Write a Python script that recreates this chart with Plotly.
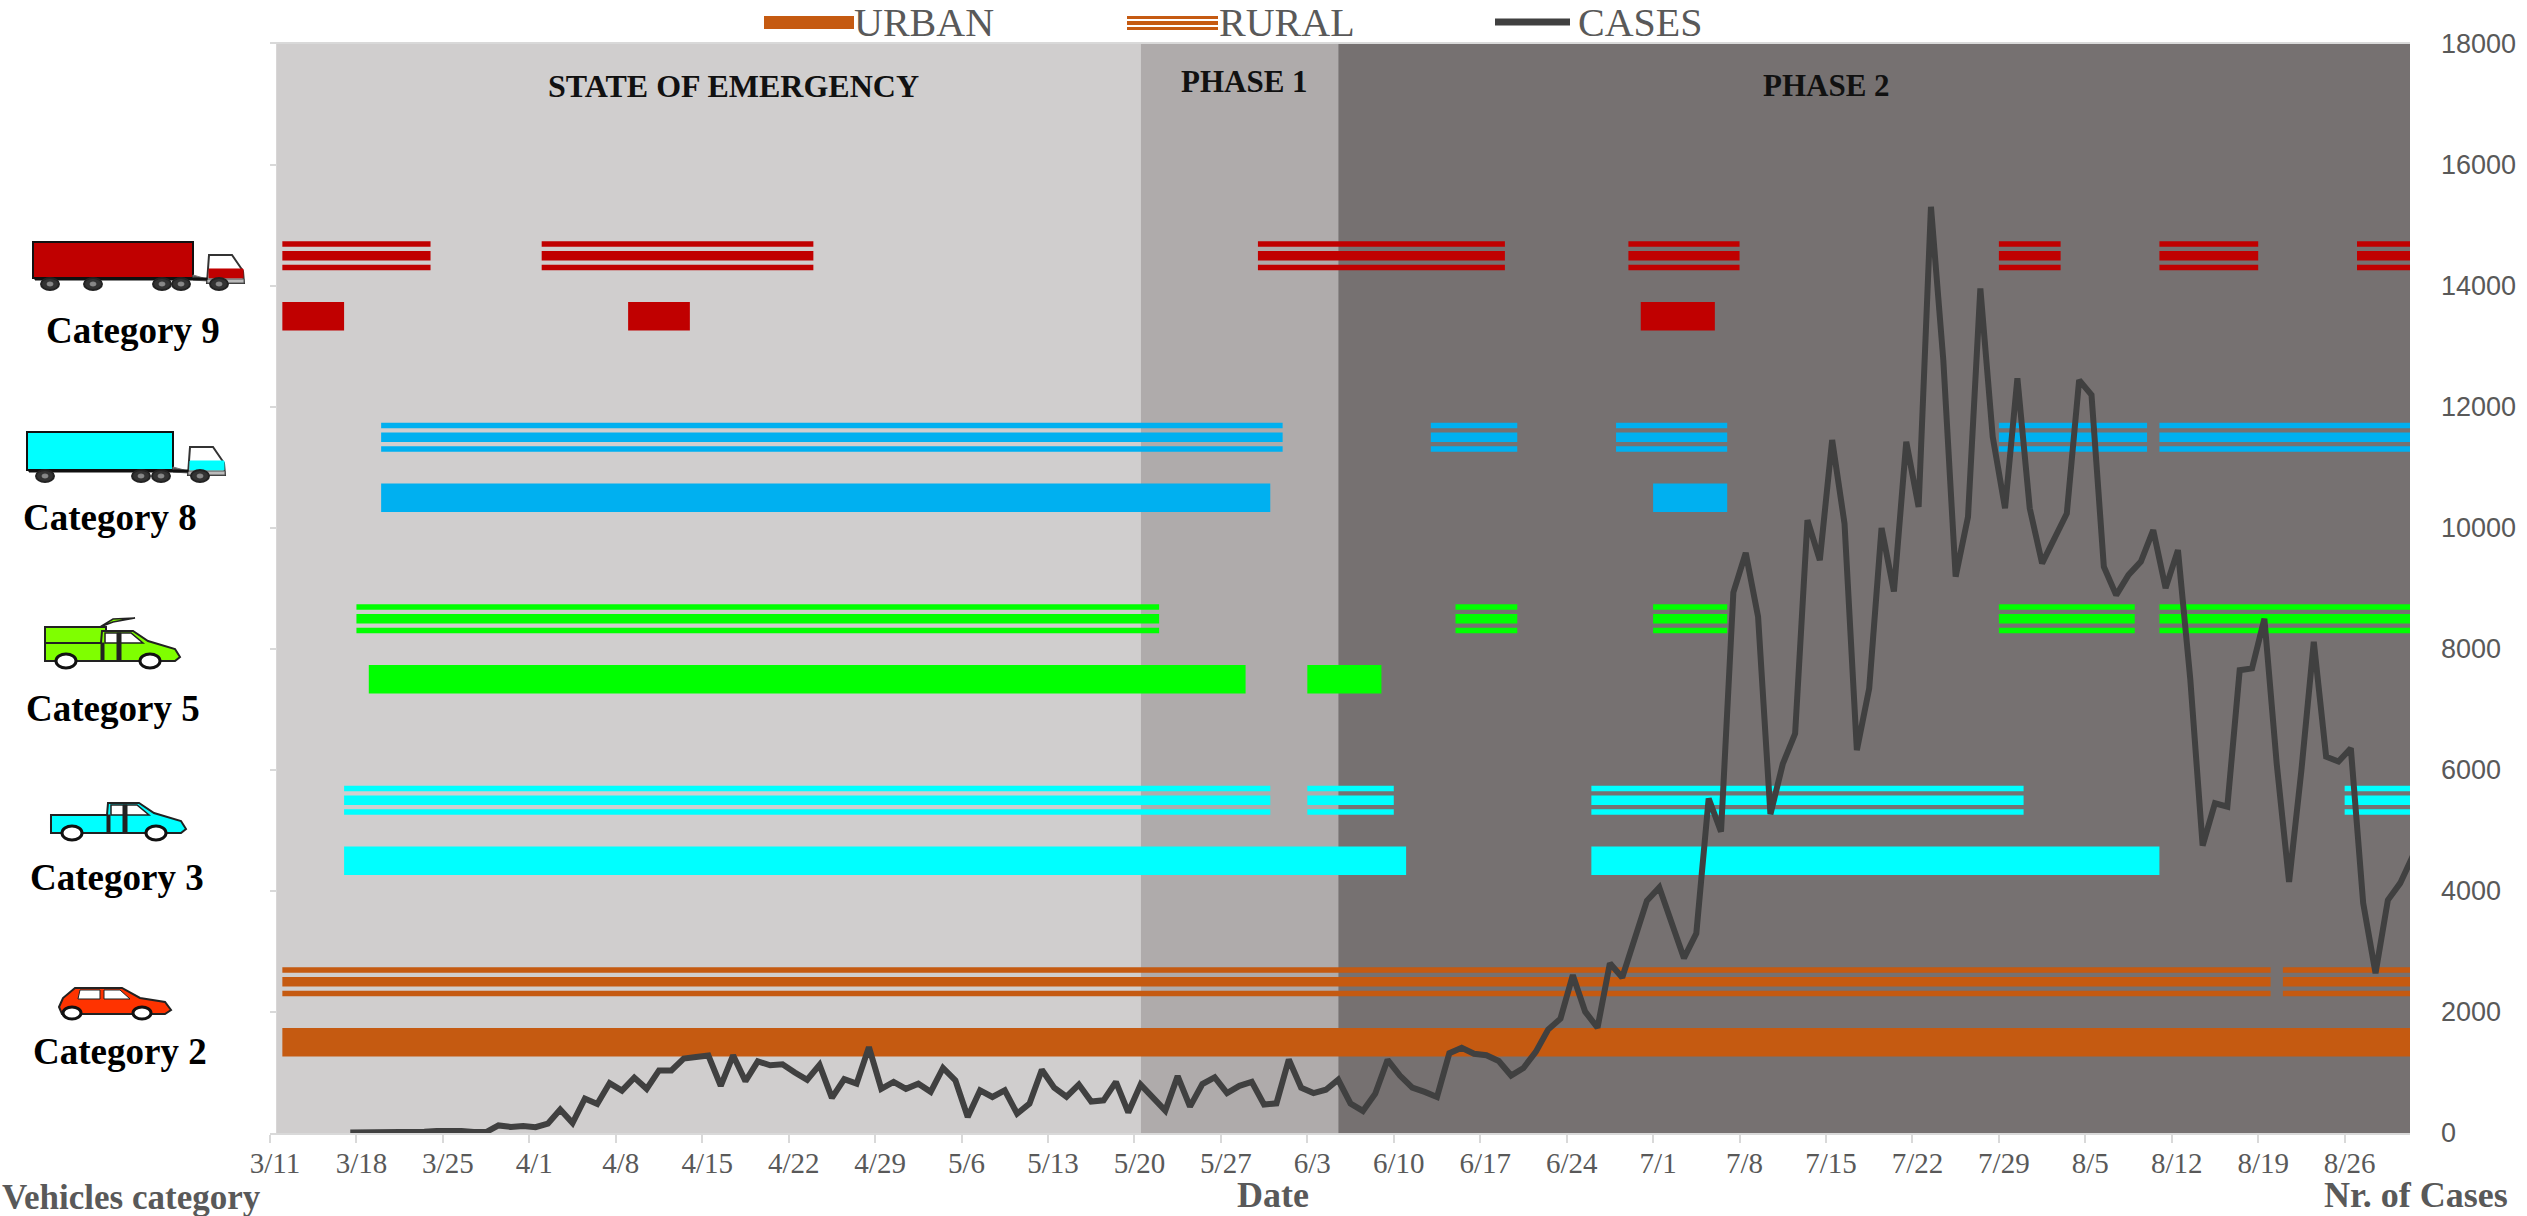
import pandas as pd
import plotly.graph_objects as go

# daily new cases, first value is 3/17
cases = [
    10, 10, 10, 15, 15, 20, 20, 35, 40, 35, 15, 15, 125, 100, 115, 95, 155, 390, 165, 570,
    480, 825, 700, 915, 730, 1035, 1035, 1230, 1255, 1280, 780, 1285, 855, 1185, 1120, 1135, 1000, 880, 1125, 580,
    890, 815, 1420, 730, 845, 730, 815, 680, 1075, 870, 265, 705, 595, 705, 320, 485, 1045,
    750, 600, 800, 520, 540, 845, 340, 800, 585, 370, 940, 435, 810, 920, 660, 780, 845, 470, 490, 1215,
    750, 660, 715, 880, 485, 365, 650, 1210, 950, 750, 680, 595, 1320, 1410, 1310, 1285, 1190, 950, 1075, 1340,
    1710, 1890, 2610, 2005, 1740, 2805, 2570, 3190, 3840, 4060, 3465, 2890, 3300, 5530, 4980, 8935, 9590, 8535, 5270, 6100,
    6600, 10130, 9470, 11455, 10075, 6330, 7350, 10000, 8950, 11425, 10350, 15310, 12775, 9195, 10185, 13960, 11510, 10325, 12475, 10325,
    9415, 9830, 10240, 12445, 12200, 9360, 8890, 9225, 9445, 9965, 9005, 9635, 7500, 4750, 5450, 5395, 7650, 7680, 8500, 6100,
    4150, 6000, 8120, 6220, 6140, 6360, 3800, 2640, 3850, 4130, 4570,
]

categories = ["Category 2", "Category 3", "Category 5", "Category 8", "Category 9"]
colors = ["#C55A11", "#00FFFF", "#00FF00", "#00B0F0", "#C00000"]

cat2_urban = [("2020-03-12", "2020-09-01")]
cat2_rural = [("2020-03-12", "2020-08-20"), ("2020-08-21", "2020-09-01")]
cat3_urban = [("2020-03-17", "2020-06-11"), ("2020-06-26", "2020-08-11")]
cat3_rural = [("2020-03-17", "2020-05-31"), ("2020-06-03", "2020-06-10"), ("2020-06-26", "2020-07-31"), ("2020-08-26", "2020-09-01")]
cat5_urban = [("2020-03-19", "2020-05-29"), ("2020-06-03", "2020-06-09")]
cat5_rural = [("2020-03-18", "2020-05-22"), ("2020-06-15", "2020-06-20"), ("2020-07-01", "2020-07-07"), ("2020-07-29", "2020-08-09"), ("2020-08-11", "2020-09-01")]
cat8_urban = [("2020-03-20", "2020-05-31"), ("2020-07-01", "2020-07-07")]
cat8_rural = [("2020-03-20", "2020-06-01"), ("2020-06-13", "2020-06-20"), ("2020-06-28", "2020-07-07"), ("2020-07-29", "2020-08-10"), ("2020-08-11", "2020-09-01")]
cat9_urban = [("2020-03-12", "2020-03-17"), ("2020-04-09", "2020-04-14"), ("2020-06-30", "2020-07-06")]
cat9_rural = [("2020-03-12", "2020-03-24"), ("2020-04-02", "2020-04-24"), ("2020-05-30", "2020-06-19"), ("2020-06-29", "2020-07-08"), ("2020-07-29", "2020-08-03"), ("2020-08-11", "2020-08-19"), ("2020-08-27", "2020-09-01")]

urban = [cat2_urban, cat3_urban, cat5_urban, cat8_urban, cat9_urban]
rural = [cat2_rural, cat3_rural, cat5_rural, cat8_rural, cat9_rural]

phases = ["STATE OF EMERGENCY", "PHASE 1", "PHASE 2"]
phase_starts = ["2020-03-11 12:00", "2020-05-20 12:00", "2020-06-05 12:00"]
phase_ends = ["2020-05-20 12:00", "2020-06-05 12:00", "2020-08-31 07:00"]
phase_colors = ["#D0CECE", "#AFABAB", "#767171"]

# page is 2527x1216, plot box in pixels
L, R, T, B = 270, 2410, 44, 1133
row_y = [1, 2.5, 4, 5.5, 7]
SERIF = "Liberation Serif"
GREY = "#595959"


def px_x(x):
    return (x - L) / (R - L)


def px_y(y):
    return (B - y) / (B - T)


fig = go.Figure()


def add_bars(segments, y, height, color):
    fig.add_trace(go.Bar(
        y=[y] * len(segments),
        base=[s for s, e in segments],
        x=[(pd.Timestamp(e) - pd.Timestamp(s)).total_seconds() * 1000 for s, e in segments],
        width=height,
        orientation="h",
        marker=dict(color=color, line=dict(width=0)),
        showlegend=False,
    ))


for i in range(len(categories)):
    add_bars(urban[i], row_y[i] - 0.25, 0.235, colors[i])
    # rural = three stripes
    add_bars(rural[i], row_y[i] + 0.25 + 0.097, 0.046, colors[i])
    add_bars(rural[i], row_y[i] + 0.25, 0.08, colors[i])
    add_bars(rural[i], row_y[i] + 0.25 - 0.097, 0.046, colors[i])

fig.add_trace(go.Scatter(
    x=pd.date_range("2020-03-17 12:00", periods=len(cases), freq="D"),
    y=cases,
    yaxis="y2",
    mode="lines",
    line=dict(color="#404040", width=6),
    showlegend=False,
))

for s, e, c in zip(phase_starts, phase_ends, phase_colors):
    fig.add_vrect(x0=s, x1=e, fillcolor=c, line_width=0, layer="below")

shapes = []


def rect(x0, y0, x1, y1, fill, line="#111111", lw=1.5):
    shapes.append(dict(type="rect", xref="paper", yref="paper",
                       x0=px_x(x0), x1=px_x(x1), y0=px_y(y0), y1=px_y(y1),
                       fillcolor=fill, line=dict(color=line, width=lw)))


def disk(cx, cy, rx, ry, fill, line="#111111", lw=2):
    shapes.append(dict(type="circle", xref="paper", yref="paper",
                       x0=px_x(cx - rx), x1=px_x(cx + rx), y0=px_y(cy - ry), y1=px_y(cy + ry),
                       fillcolor=fill, line=dict(color=line, width=lw)))


def poly(points, fill, line="#111111", lw=1.5):
    p = "M " + " L ".join(f"{px_x(x):.5f},{px_y(y):.5f}" for x, y in points) + " Z"
    shapes.append(dict(type="path", xref="paper", yref="paper", path=p,
                       fillcolor=fill, line=dict(color=line, width=lw)))


def truck(x0, x1, y0, y1, wheels, cab_x, color):
    # container, hitch, cab, wheels
    rect(x0, y0, x1, y1, color, lw=2)
    poly([(x1, y1 - 3), (cab_x, y1 + 1), (cab_x, y1 + 3), (x1, y1 + 2)], "#555555", "#777777", 1)
    cy = y1 + 5
    poly([(cab_x, cy), (cab_x + 2, cy - 28), (cab_x + 25, cy - 28), (cab_x + 36, cy - 12), (cab_x + 37, cy)], "#FFFFFF", "#333333", 2)
    poly([(cab_x + 2, cy - 14), (cab_x + 36, cy - 14), (cab_x + 36, cy - 5), (cab_x + 2, cy - 5)], color, color, 1)
    rect(cab_x, cy - 4, cab_x + 37, cy, "#BBBBBB", "#555555", 1)
    rect(x0 + 2, y1, cab_x, y1 + 2, "#111111", "#111111", 1)
    for w in wheels + [cab_x + 12]:
        disk(w, y1 + 6, 9, 6, "#333333", "#222222", 2)
        disk(w, y1 + 6, 3, 2, "#888888", "#888888", 1)


def pickup(ox, oy, color, dump=False):
    # ox, oy: left end and bottom of the body
    if dump:
        rect(ox, oy - 34, ox + 61, oy - 16, color, "#222222", 2)
        poly([(ox + 55, oy - 34), (ox + 68, oy - 42), (ox + 90, oy - 43), (ox + 68, oy - 39)], color, "#222222", 1.5)
    poly([(ox, oy), (ox, oy - 18), (ox + 56, oy - 18), (ox + 57, oy - 30), (ox + 88, oy - 30), (ox + 103, oy - 20),
          (ox + 130, oy - 12), (ox + 135, oy - 4), (ox + 130, oy)], color, "#222222", 2)
    poly([(ox + 60, oy - 18), (ox + 60, oy - 28), (ox + 86, oy - 28), (ox + 98, oy - 18)], "#FFFFFF", "#222222", 1.5)
    rect(ox + 72, oy - 28, ox + 76, oy, "#222222", "#222222", 1)
    rect(ox + 56, oy - 18, ox + 59, oy, "#222222", "#222222", 1)
    for w in [ox + 21, ox + 105]:
        disk(w, oy, 10, 7, "#FFFFFF", "#111111", 3)


truck(33, 193, 242, 278, [50, 93, 162, 181], 207, colors[4])
truck(27, 173, 432, 470, [45, 141, 161], 188, colors[1])
pickup(45, 661, "#7FFF00", dump=True)
pickup(51, 833, colors[1])

# car
poly([(59, 1007), (63, 998), (75, 988), (122, 988), (140, 998), (165, 1002), (171, 1010), (165, 1014), (62, 1014)], "#FF3300", "#222222", 2)
poly([(78, 999), (80, 990), (100, 990), (100, 999)], "#FFFFFF", "#222222", 1)
poly([(104, 999), (104, 990), (120, 990), (130, 999)], "#FFFFFF", "#222222", 1)
for w in [72, 142]:
    disk(w, 1013, 9, 6, "#FFFFFF", "#111111", 3)

# legend swatches
rect(764, 16, 854, 29, colors[0], colors[0], 0)
for y0, y1 in [(16, 19), (21, 25), (27, 30)]:
    rect(1127, y0, 1218, y1, colors[0], colors[0], 0)
shapes.append(dict(type="line", xref="paper", yref="paper", x0=px_x(1495), x1=px_x(1570),
                   y0=px_y(22), y1=px_y(22), line=dict(color="#404040", width=7)))
for s in shapes:
    fig.add_shape(**s)

notes = [
    (733, 86, phases[0], 32, "#111111", True, "center"),
    (1244, 82, phases[1], 31, "#111111", True, "center"),
    (1826, 86, phases[2], 31, "#111111", True, "center"),
    (120, 1051, categories[0], 37, "#000000", True, "center"),
    (117, 877, categories[1], 37, "#000000", True, "center"),
    (113, 708, categories[2], 37, "#000000", True, "center"),
    (110, 517, categories[3], 37, "#000000", True, "center"),
    (133, 330, categories[4], 37, "#000000", True, "center"),
    (853, 23, "URBAN", 40, GREY, False, "left"),
    (1218, 23, "RURAL", 40, GREY, False, "left"),
    (1577, 23, "CASES", 40, GREY, False, "left"),
    (1, 1197, "Vehicles category", 35, GREY, True, "left"),
    (1273, 1195, "Date", 36, GREY, True, "center"),
    (2416, 1195, "Nr. of Cases", 36, GREY, True, "center"),
]
for x, y, text, size, color, bold, anchor in notes:
    fig.add_annotation(
        x=px_x(x), y=px_y(y), xref="paper", yref="paper", text=f"<b>{text}</b>" if bold else text,
        showarrow=False, xanchor=anchor, yanchor="middle", borderpad=0,
        font=dict(family=SERIF, size=size, color=color),
    )

fig.update_layout(
    width=2527,
    height=1216,
    margin=dict(l=L, r=2527 - R, t=T, b=1216 - B, pad=0),
    paper_bgcolor="white",
    plot_bgcolor="white",
    barmode="overlay",
    showlegend=False,
    xaxis=dict(
        type="date",
        range=["2020-03-11", "2020-08-31 07:00"],
        tick0="2020-03-11",
        dtick=7 * 86400000,
        tickformat="%-m/%-d",
        ticks="outside",
        ticklen=8,
        tickwidth=2,
        tickcolor="#D9D9D9",
        ticklabelshift=5,
        ticklabelstandoff=-5,
        showgrid=False,
        zeroline=False,
        showline=True,
        mirror=True,
        linecolor="#D9D9D9",
        linewidth=2,
        tickfont=dict(family=SERIF, size=29, color=GREY),
    ),
    yaxis=dict(
        range=[0, 9],
        dtick=1,
        ticks="inside",
        ticklen=7,
        tickwidth=2,
        tickcolor="#D9D9D9",
        showticklabels=False,
        showgrid=False,
        zeroline=False,
    ),
    yaxis2=dict(
        overlaying="y",
        side="right",
        range=[0, 18000],
        dtick=2000,
        tickformat="d",
        ticks="",
        ticklabelstandoff=30,
        showgrid=False,
        zeroline=False,
        tickfont=dict(family="Liberation Sans", size=27, color=GREY),
    ),
)

fig.write_html("out.html", config={"displayModeBar": False}, post_script="document.body.style.margin='0';")
